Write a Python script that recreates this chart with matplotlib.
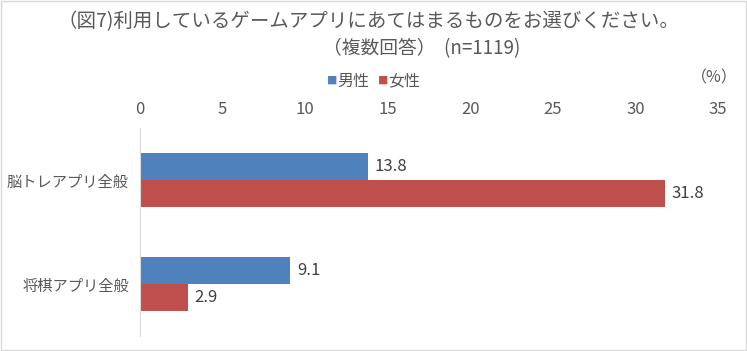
import numpy as np
import matplotlib.pyplot as plt
from matplotlib.patches import Rectangle

plt.rcParams['font.family'] = ['Noto Sans CJK JP', 'DejaVu Sans']

categories = ["脳トレアプリ全般", "将棋アプリ全般"]
male = [13.8, 9.1]
female = [31.8, 2.9]
ticks = [0, 5, 10, 15, 20, 25, 30, 35]

blue = "#4F81BD"
red = "#C0504D"
gray = "#595959"

fig = plt.figure(figsize=(7.47, 3.51), dpi=100)
ax = fig.add_axes([140 / 747, 1 - 336 / 351, 578 / 747, 208 / 351])

y = np.arange(len(categories))
h = 0.26
ax.barh(y - h / 2, male, height=h, color=blue)
ax.barh(y + h / 2, female, height=h, color=red)

for yi, v in zip(y, male):
    ax.text(v + 0.4, yi - h / 2, f"{v:.1f}", va="center", ha="left", fontsize=12, color="#404040")
for yi, v in zip(y, female):
    ax.text(v + 0.4, yi + h / 2, f"{v:.1f}", va="center", ha="left", fontsize=12, color="#404040")

ax.set_xlim(0, 35)
ax.set_ylim(1.5, -0.5)
ax.set_xticks(ticks)
ax.set_yticks(y)
ax.set_yticklabels(categories)
ax.xaxis.tick_top()
ax.tick_params(axis="x", length=0, labelsize=12, labelcolor=gray, pad=7)
ax.tick_params(axis="y", length=0, labelsize=11, labelcolor=gray, pad=8)
for s in ["top", "right", "bottom"]:
    ax.spines[s].set_visible(False)
ax.spines["left"].set_color("#D9D9D9")

fig.text(368 / 747, 1 - 22 / 351, "（図7)利用しているゲームアプリにあてはまるものをお選びください。", ha="center", va="center", fontsize=14, color=gray)
fig.text(422 / 747, 1 - 49 / 351, "（複数回答）  (n=1119)", ha="center", va="center", fontsize=13.5, color=gray)

# legend
fig.text(332 / 747, 1 - 81 / 351, "■", ha="center", va="center", fontsize=7.5, color=blue)
fig.text(337 / 747, 1 - 81 / 351, "男性", ha="left", va="center", fontsize=11.5, color=gray)
fig.text(383 / 747, 1 - 81 / 351, "■", ha="center", va="center", fontsize=7.5, color=red)
fig.text(388 / 747, 1 - 81 / 351, "女性", ha="left", va="center", fontsize=11.5, color=gray)
fig.text(714 / 747, 1 - 78 / 351, "（%）", ha="center", va="center", fontsize=11.5, color=gray)

fig.patches.append(Rectangle((0.001, 0.002), 0.997, 0.995, transform=fig.transFigure,
                             fill=False, edgecolor="#D9D9D9", linewidth=1))

fig.savefig("out.png", dpi=100)
